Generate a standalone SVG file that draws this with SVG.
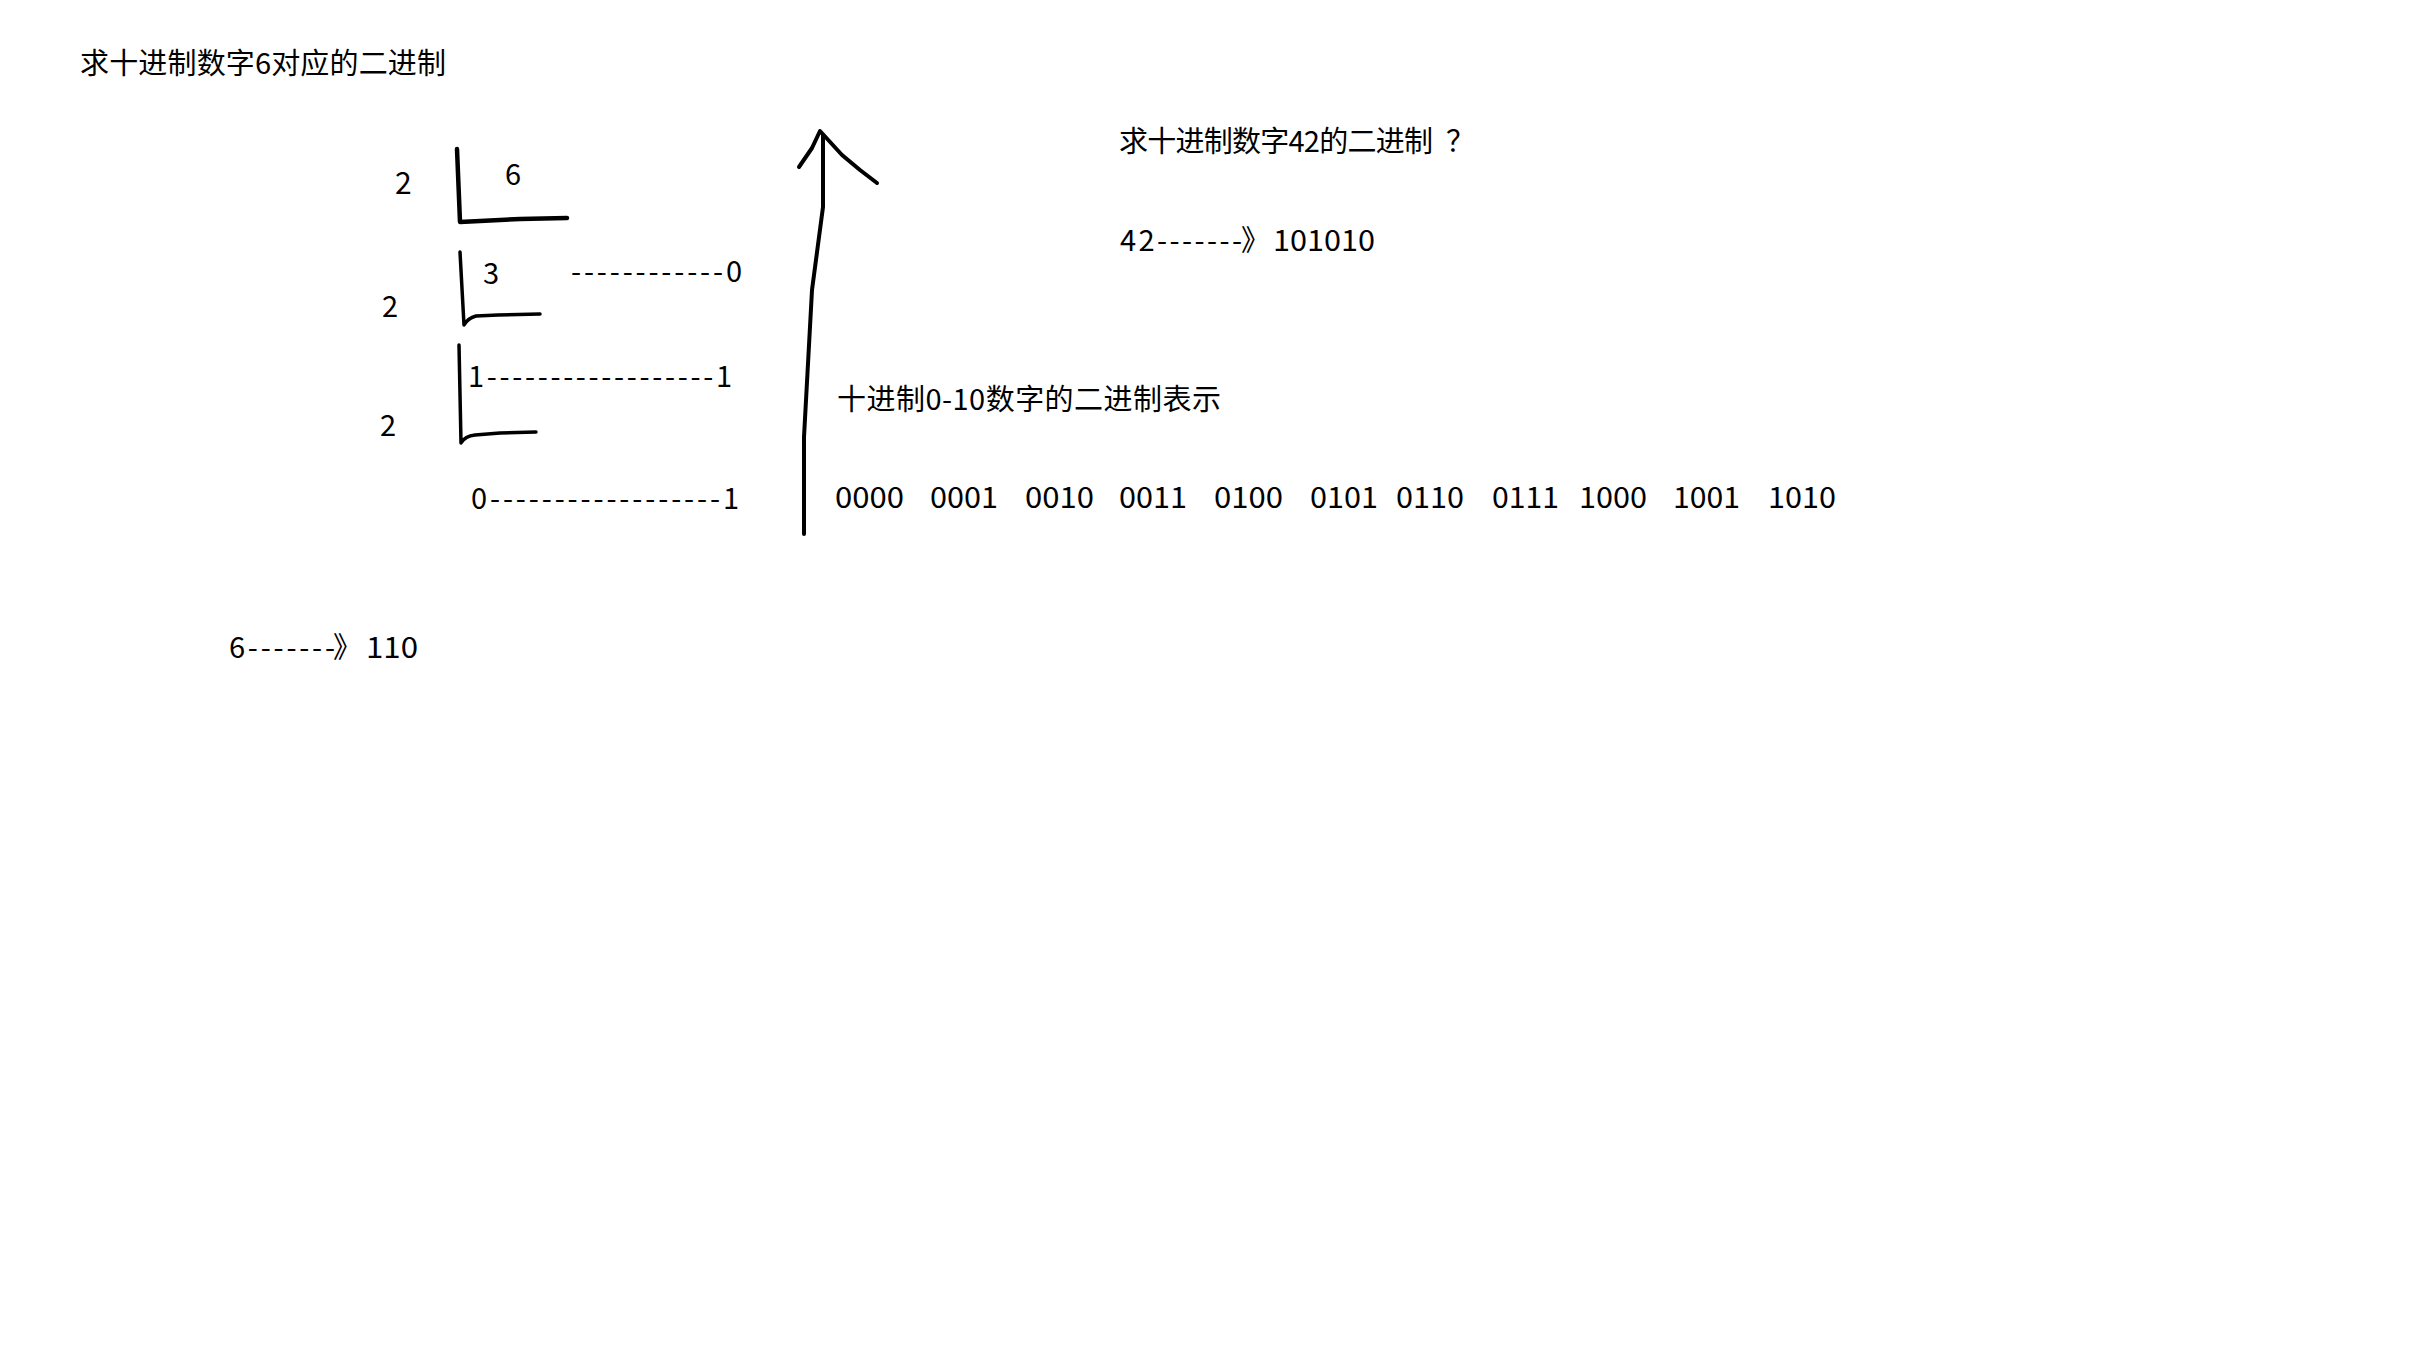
<svg xmlns="http://www.w3.org/2000/svg" width="2433" height="1355" viewBox="0 0 2433 1355">
<style>
text{font-family:"Noto Sans CJK SC","Microsoft YaHei",sans-serif;font-size:29px;fill:#000}
.ink{fill:none;stroke:#000;stroke-linecap:round;stroke-linejoin:round}
</style>
<rect width="2433" height="1355" fill="#fff"/>
<g id="title"><text x="80" y="74" textLength="366" lengthAdjust="spacing">求十进制数字6对应的二进制</text></g>
<g id="division">
<text x="395" y="194" style="font-size:30px">2</text>
<text x="505" y="185">6</text>
<text x="483" y="284">3</text>
<text x="571" y="282" textLength="171" lengthAdjust="spacing">------------0</text>
<text x="382" y="317">2</text>
<text x="468" y="387" textLength="264" lengthAdjust="spacing">1------------------1</text>
<text x="380" y="436">2</text>
<text x="471" y="509" textLength="268" lengthAdjust="spacing">0------------------1</text>
</g>
<g id="connectors">
<path class="ink" stroke-width="4.5" d="M457,149 L460,222 L520,219 L567,218"/>
<path class="ink" stroke-width="3.5" d="M460,252 L464,325 Q468,318 476,316 L498,315 L540,314"/>
<path class="ink" stroke-width="3.5" d="M459,345 L461,443 Q465,436 475,435 L500,433 L536,432"/>
<path class="ink" stroke-width="4" d="M804,534 L804,437 L812,290 L823,207 L823,135"/>
<path class="ink" stroke-width="4" d="M799,167 L812,148 L820,131 L842,155 L860,170 L877,183"/>
</g>
<g id="result6"><text y="658"><tspan x="229" textLength="106" lengthAdjust="spacing">6-------</tspan><tspan x="333">》</tspan><tspan x="366" textLength="52" lengthAdjust="spacingAndGlyphs">110</tspan></text></g>
<g id="q42">
<text y="152"><tspan x="1119" textLength="314" lengthAdjust="spacing">求十进制数字42的二进制</tspan><tspan x="1446">？</tspan></text>
<text y="251"><tspan x="1120" textLength="122" lengthAdjust="spacing">42-------</tspan><tspan x="1241">》</tspan><tspan x="1273" textLength="102" lengthAdjust="spacingAndGlyphs">101010</tspan></text>
</g>
<g id="table">
<text x="837" y="410" textLength="384" lengthAdjust="spacing">十进制0-10数字的二进制表示</text>
<text y="508" lengthAdjust="spacingAndGlyphs"><tspan x="835" textLength="69" lengthAdjust="spacingAndGlyphs">0000</tspan><tspan x="930" textLength="68" lengthAdjust="spacingAndGlyphs">0001</tspan><tspan x="1025" textLength="69" lengthAdjust="spacingAndGlyphs">0010</tspan><tspan x="1119" textLength="68" lengthAdjust="spacingAndGlyphs">0011</tspan><tspan x="1214" textLength="69" lengthAdjust="spacingAndGlyphs">0100</tspan><tspan x="1310" textLength="68" lengthAdjust="spacingAndGlyphs">0101</tspan><tspan x="1396" textLength="68" lengthAdjust="spacingAndGlyphs">0110</tspan><tspan x="1492" textLength="67" lengthAdjust="spacingAndGlyphs">0111</tspan><tspan x="1579" textLength="68" lengthAdjust="spacingAndGlyphs">1000</tspan><tspan x="1673" textLength="67" lengthAdjust="spacingAndGlyphs">1001</tspan><tspan x="1768" textLength="68" lengthAdjust="spacingAndGlyphs">1010</tspan></text>
</g>
</svg>
